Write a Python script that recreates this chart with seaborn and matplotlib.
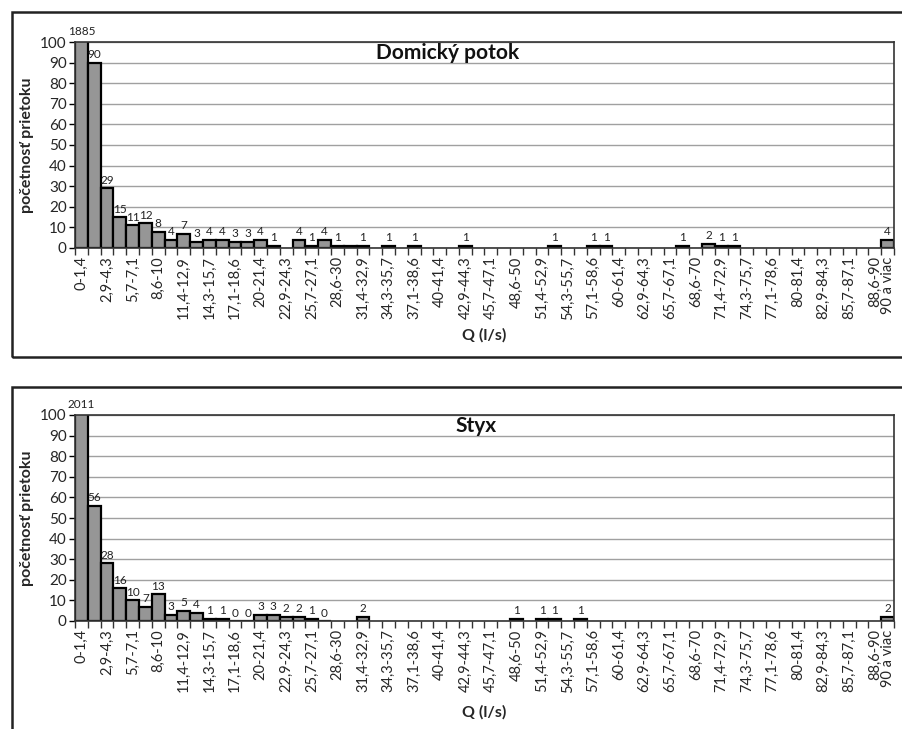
import numpy as np
import pandas as pd
import matplotlib
matplotlib.use("Agg")
import matplotlib.pyplot as plt
from matplotlib.patches import Rectangle
import seaborn as sns

# intervaly prietoku Q (l/s)
intervaly = [
    "0-1,4", "1,4-2,9", "2,9-4,3", "4,3-5,7", "5,7-7,1", "7,1-8,6", "8,6-10", "10-11,4",
    "11,4-12,9", "12,9-14,3", "14,3-15,7", "15,7-17,1", "17,1-18,6", "18,6-20", "20-21,4", "21,4-22,9",
    "22,9-24,3", "24,3-25,7", "25,7-27,1", "27,1-28,6", "28,6-30", "30-31,4", "31,4-32,9", "32,9-34,3",
    "34,3-35,7", "35,7-37,1", "37,1-38,6", "38,6-40", "40-41,4", "41,4-42,9", "42,9-44,3", "44,3-45,7",
    "45,7-47,1", "47,1-48,6", "48,6-50", "50-51,4", "51,4-52,9", "52,9-54,3", "54,3-55,7", "55,7-57,1",
    "57,1-58,6", "58,6-60", "60-61,4", "61,4-62,9", "62,9-64,3", "64,3-65,7", "65,7-67,1", "67,1-68,6",
    "68,6-70", "70-71,4", "71,4-72,9", "72,9-74,3", "74,3-75,7", "75,7-77,1", "77,1-78,6", "78,6-80",
    "80-81,4", "81,4-82,9", "82,9-84,3", "84,3-85,7", "85,7-87,1", "87,1-88,6", "88,6-90", "90 a viac",
]
# zobrazene popisky osi x (kazdy druhy + posledny)
popisky_idx = list(range(0, 63, 2)) + [63]

N = None
domicky = [
    1885, 90, 29, 15, 11, 12, 8, 4, 7, 3, 4, 4, 3, 3, 4, 1,
    N, 4, 1, 4, 1, 1, 1, N, 1, N, 1, N, N, N, 1, N,
    N, N, N, N, N, 1, N, N, 1, 1, N, N, N, N, N, 1,
    N, 2, 1, 1, N, N, N, N, N, N, N, N, N, N, N, 4,
]
domicky_bez_popisu = [21]

styx = [
    2011, 56, 28, 16, 10, 7, 13, 3, 5, 4, 1, 1, 0, 0, 3, 3,
    2, 2, 1, 0, N, N, 2, N, N, N, N, N, N, N, N, N,
    N, N, 1, N, 1, 1, N, 1, N, N, N, N, N, N, N, N,
    N, N, N, N, N, N, N, N, N, N, N, N, N, N, N, 2,
]
styx_bez_popisu = []

sns.set_style("white")
plt.rcParams["font.family"] = ["Lato", "DejaVu Sans"]

fig = plt.figure(figsize=(9.03, 7.29), dpi=100)

# ramiky grafov
fig.patches.append(Rectangle((12 / 903, 1 - 357 / 729), 1.0, 345 / 729, transform=fig.transFigure,
                             fill=False, edgecolor="#222222", linewidth=1.8))
fig.patches.append(Rectangle((12 / 903, -0.05), 1.0, 0.05 + 1 - 387 / 729, transform=fig.transFigure,
                             fill=False, edgecolor="#222222", linewidth=1.8))


def graf(ax, hodnoty, bez_popisu, nazov, nazov_x, xlab_y):
    df = pd.DataFrame({"interval": intervaly,
                       "pocet": [np.nan if v is None else v for v in hodnoty]})
    sns.barplot(data=df, x="interval", y="pocet", order=intervaly, color="#969696",
                saturation=1, edgecolor="black", linewidth=1.6, width=1.0, errorbar=None, ax=ax)
    ax.set_xlim(-0.5, 63.5)
    ax.set_ylim(0, 100)
    ax.set_yticks(range(0, 101, 10))
    ax.yaxis.grid(True, color="#a0a0a0", linewidth=1)
    ax.set_axisbelow(True)
    ax.tick_params(axis="y", labelsize=11, length=4, width=1, color="black", left=True, pad=2)
    ax.set_xticks(popisky_idx)
    ax.set_xticklabels([intervaly[i] for i in popisky_idx], rotation=90, fontsize=10.5)
    ax.set_xticks(np.arange(-0.5, 64, 1), minor=True)
    ax.tick_params(axis="x", which="major", length=0, pad=6)
    ax.tick_params(axis="x", which="minor", length=5, width=1, color="#333333", bottom=True)
    for s in ax.spines.values():
        s.set_visible(True)
        s.set_color("#333333")
        s.set_linewidth(1.2)
    ax.set_xlabel("Q (l/s)", fontsize=11.5, fontweight="bold")
    ax.xaxis.set_label_coords(0.5, xlab_y)
    ax.set_ylabel("početnosť prietoku", fontsize=11.5, fontweight="bold")
    ax.yaxis.set_label_coords(-0.05, 0.5)
    for i, v in enumerate(hodnoty):
        if v is None or i in bez_popisu:
            continue
        ax.text(i, min(v, 100) + (2.5 if v > 100 else 1.2), str(v), ha="center", va="bottom",
                fontsize=8.5, color="#222222", clip_on=False)
    ax.text(nazov_x, 0.945, nazov, transform=ax.transAxes, ha="center", va="center",
            fontsize=15, fontweight="bold", color="#111111")


ax1 = fig.add_axes([75 / 903, 1 - 248 / 729, 819 / 903, 206 / 729])
graf(ax1, domicky, domicky_bez_popisu, "Domický potok", 0.455, -0.39)

ax2 = fig.add_axes([75 / 903, 1 - 621 / 729, 819 / 903, 206 / 729])
graf(ax2, styx, styx_bez_popisu, "Styx", 0.49, -0.41)

fig.savefig("out.png", dpi=100)
